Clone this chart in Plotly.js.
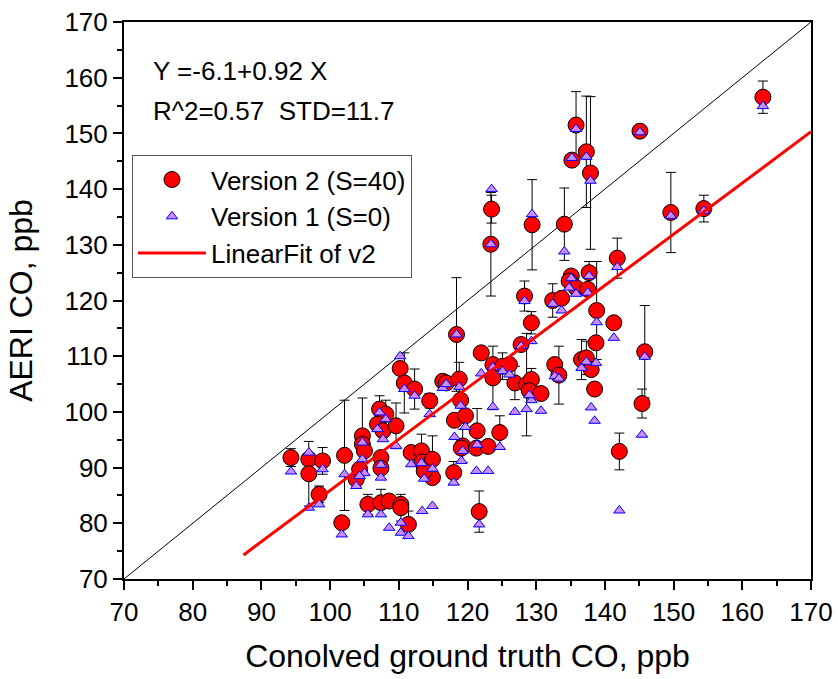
<!DOCTYPE html>
<html>
<head>
<meta charset="utf-8">
<script src="https://cdn.plot.ly/plotly-3.0.1.min.js"></script>
<style>html,body{margin:0;padding:0;background:#fff;}#chart{width:838px;height:679px;}</style>
</head>
<body>
<div id="chart"></div>
<script>
// Convolved ground truth CO (ppb)
const truthCO = [94.3,96.9,96.9,98.9,98.4,102.1,101.7,103.8,104.7,104.7,105.0,104.3,105.5,107.2,108.1,106.9,107.7,109.6,107.4,107.4,107.4,108.6,110.3,110.3,111.4,110.2,110.8,112.3,114.5,116.4,116.9,118.8,118.4,119.0,118.1,119.7,121.4,124.7,119.3,119.1,121.3,123.0,118.0,111.8,113.3,113.4,114.9,114.9,113.7,121.7,122.0,123.7,125.1,126.1,123.7,126.9,128.6,129.3,129.0,130.7,129.3,127.8,128.3,132.4,133.7,135.1,134.8,135.8,137.7,137.5,138.8,138.7,136.6,137.3,138.0,138.5,132.7,133.3,141.3,145.8,145.4,142.1,135.8,135.2,137.3,137.9,145.1,163.0,129.4,134.1,149.6,154.4,141.8,123.5,123.4];
// AERI CO, Version 2 (S=40)
const v2CO = [91.8,91.5,88.9,91.2,85.2,92.2,80.1,87.9,95.7,94.2,93.0,89.7,83.4,100.5,99.6,97.8,96.6,97.5,91.8,89.9,83.7,84.0,83.4,82.8,79.8,107.8,105.2,104.1,102.0,105.5,105.2,105.9,113.9,102.1,98.5,99.3,96.6,96.3,93.9,93.5,93.5,93.8,89.1,92.7,93.0,91.0,91.5,88.2,89.4,82.1,110.6,108.5,108.2,108.5,106.1,105.2,104.9,105.8,103.8,103.3,116.0,112.1,120.8,120.0,120.4,124.4,123.5,122.3,125.0,122.0,118.2,112.4,109.4,109.7,107.6,104.1,108.5,106.6,116.0,110.8,101.5,92.9,151.5,145.2,146.7,142.9,150.4,156.5,133.6,133.7,135.8,136.5,127.6,136.4,130.1];
// Error of Version 2
const v2Err = [1.6,0,5.8,2.4,1.5,9.9,0,0,6.8,0,0,0,1.8,2.4,2.5,0,0,4.1,0,0,2.4,0,0,2.4,2.4,0,5.4,3.6,1.3,0,0,3.0,10.2,0,0,0,4.0,3.0,3.0,0,0,0,2.0,0,3.0,0,4.2,0,0,3.7,0,0,2.4,0,5.7,3.0,9.2,2.0,0,0,2.0,0,2.7,3.0,0,0,0,0,2.0,0,8.8,0,3.6,3.0,0,0,0,5.2,0,8.3,2.6,3.3,6.0,0,10.0,13.7,0,2.9,8.1,6.5,7.2,2.4,3.6,2.5,9.3];
// AERI CO, Version 1 (S=0)
const v1CO = [89.3,92.7,82.8,89.7,83.4,88.8,78.0,86.7,94.5,91.5,89.0,88.5,81.6,99.9,98.7,96.9,95.1,93.9,90.5,88.2,81.6,79.2,80.1,78.3,77.7,110.0,104.1,102.9,99.6,104.3,105.0,104.5,113.9,101.1,95.5,97.3,94.1,93.7,93.0,91.2,89.4,89.4,87.3,90.6,90.8,82.2,89.8,83.1,88.0,79.8,106.9,108.0,107.3,106.7,100.9,100.0,100.5,102.1,103.0,100.2,112.7,111.8,119.9,119.4,118.2,124.0,122.3,121.2,124.4,121.4,116.1,108.8,107.9,109.0,100.8,98.4,106.4,106.0,113.3,109.9,95.9,82.3,150.8,145.6,145.8,141.5,150.2,154.9,135.5,128.8,135.2,136.1,126.0,140.0,130.1];

const fitIntercept = -6.1;
const fitSlope = 0.92;
const fitXRange = [87.4, 170];
const axisRange = [70, 170];
const xTicks = [70,80,90,100,110,120,130,140,150,160,170];
const yTicks = [70,80,90,100,110,120,130,140,150,160,170];
const fitText = "Y =-6.1+0.92 X";
const statText = "R^2=0.57\u00A0 STD=11.7";

const FONT = "Liberation Sans, Arial, sans-serif";

const fitY = fitXRange.map(x => fitIntercept + fitSlope * x);

const traces = [
  {
    x: axisRange, y: axisRange, mode: 'lines', showlegend: false, hoverinfo: 'skip',
    line: {color: '#000000', width: 1}
  },
  {
    x: truthCO, y: v2CO, mode: 'markers', name: 'Version 2 (S=40)',
    marker: {symbol: 'circle', size: 16, color: '#ff0000', line: {color: '#000000', width: 1}},
    error_y: {type: 'data', array: v2Err, visible: true, color: '#000000', thickness: 1, width: 5}
  },
  {
    x: truthCO, y: v1CO, mode: 'markers', name: 'Version 1 (S=0)',
    marker: {symbol: 'triangle-up', size: 10, color: 'rgb(204,140,255)', line: {color: '#0000ff', width: 1}}
  },
  {
    x: fitXRange, y: fitY, mode: 'lines', name: 'LinearFit of v2',
    line: {color: '#ff0000', width: 3}
  }
];

const axisCommon = {
  range: axisRange, showgrid: false, zeroline: false,
  showline: true, linecolor: '#000000', linewidth: 2, mirror: true,
  ticks: 'outside', ticklen: 9, tickwidth: 2, tickcolor: '#000000',
  tickfont: {family: FONT, size: 26, color: '#000000'},
  minor: {dtick: 5, ticks: 'outside', ticklen: 5, tickwidth: 2, tickcolor: '#000000', showgrid: false}
};

const layout = {
  width: 838, height: 679,
  margin: {l: 124, r: 27, t: 22, b: 100},
  paper_bgcolor: '#ffffff', plot_bgcolor: '#ffffff',
  font: {family: FONT, color: '#000000'},
  showlegend: true,
  xaxis: Object.assign({}, axisCommon, {
    tickvals: xTicks,
    title: {text: 'Conolved ground truth CO, ppb', font: {family: FONT, size: 32, color: '#000000'}, standoff: 18}
  }),
  yaxis: Object.assign({}, axisCommon, {
    tickvals: yTicks,
    title: {text: 'AERI CO, ppb', font: {family: FONT, size: 32, color: '#000000'}, standoff: 22}
  }),
  legend: {
    x: 0.0116, y: 0.761, xanchor: 'left', yanchor: 'top',
    bgcolor: '#ffffff', bordercolor: '#555555', borderwidth: 1,
    font: {family: FONT, size: 26, color: '#000000'},
    itemwidth: 68, tracegroupgap: 0
  },
  annotations: [
    {xref: 'paper', yref: 'paper', x: 0.04, y: 0.912, xanchor: 'left', yanchor: 'middle',
     text: fitText, showarrow: false, font: {family: FONT, size: 26, color: '#000000'}},
    {xref: 'paper', yref: 'paper', x: 0.04, y: 0.840, xanchor: 'left', yanchor: 'middle',
     text: statText, showarrow: false, font: {family: FONT, size: 26, color: '#000000'}}
  ]
};

Plotly.newPlot('chart', traces, layout, {displayModeBar: false, staticPlot: true});
</script>
</body>
</html>
